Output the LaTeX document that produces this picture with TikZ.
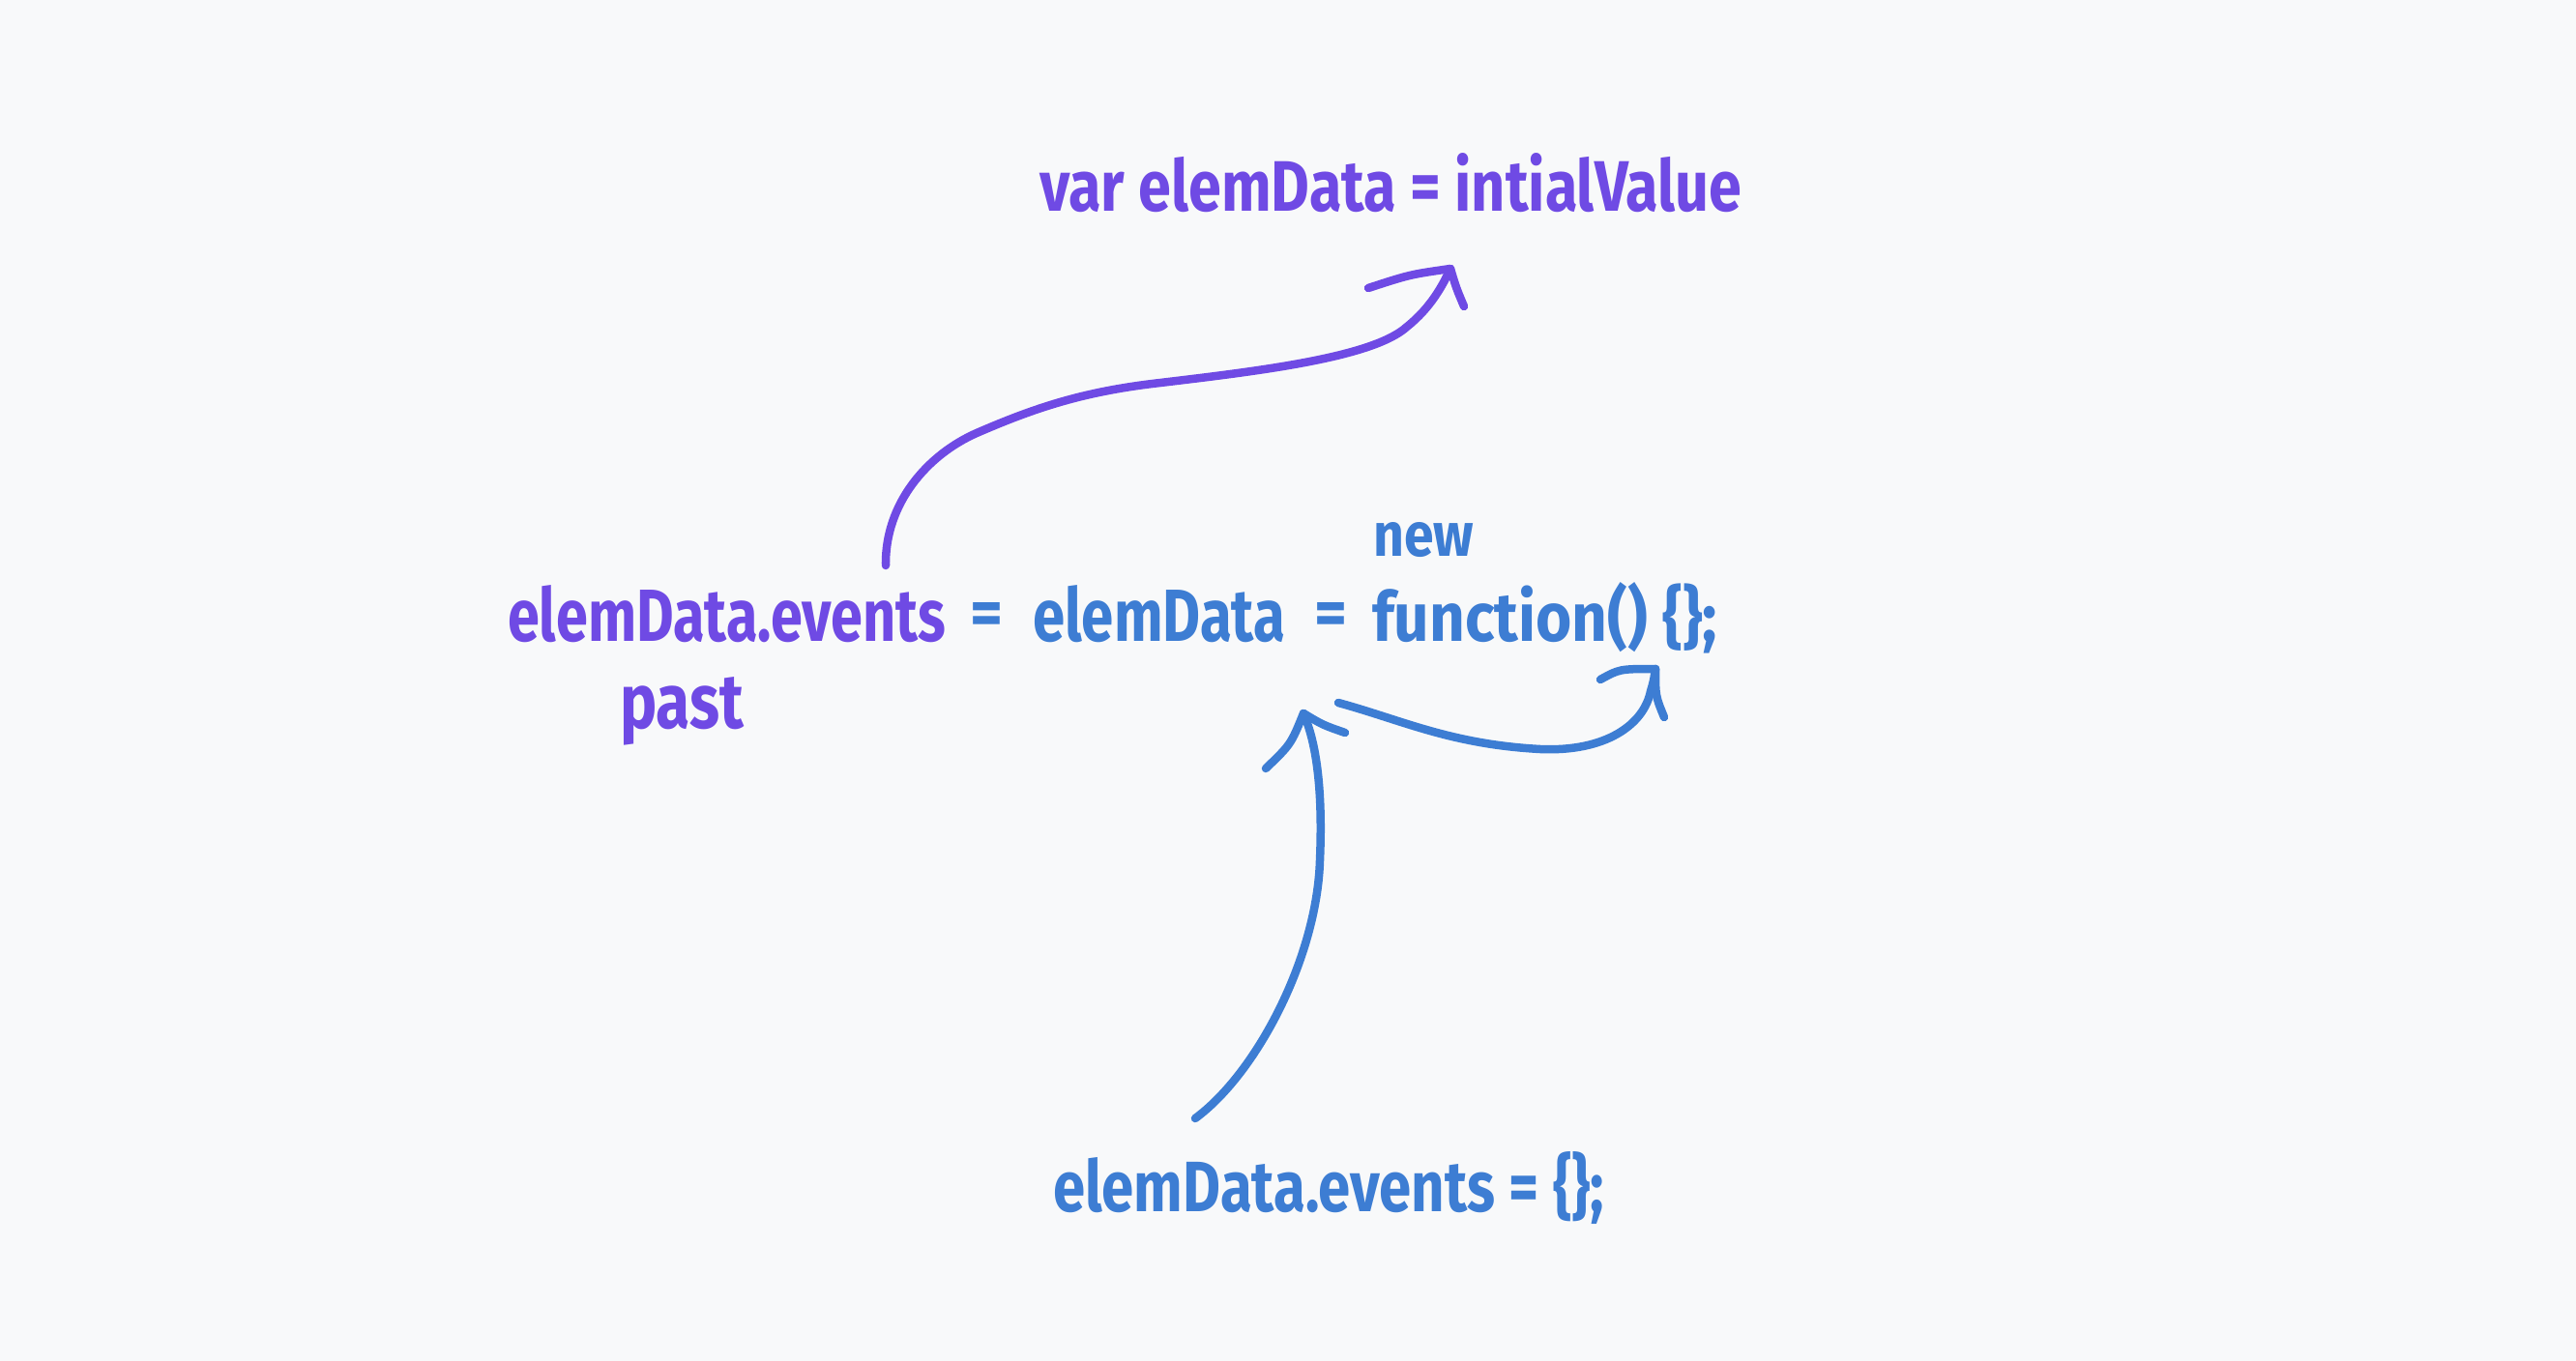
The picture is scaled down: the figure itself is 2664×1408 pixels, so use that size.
\documentclass[tikz,border=0pt]{standalone}
\usepackage{fontspec}
\usepackage{graphicx}
\newfontfamily\hand{Fira Sans}
\definecolor{bgc}{HTML}{F8F9FA}
\definecolor{vio}{HTML}{6F4AE4}
\definecolor{blu}{HTML}{3D7DD3}
\newcommand{\mytxt}[3]{\resizebox{#1pt}{#2pt}{\hand\bfseries\fontsize{40}{48}\selectfont #3}}
\tikzset{
  txt/.style={inner sep=0pt, anchor=base west},
  eqs/.style={inner sep=0pt, anchor=center},
  stroke/.style={line width=8.5pt, line cap=round, line join=round}
}
\begin{document}
\begin{tikzpicture}[x=1pt,y=-1pt]
\fill[bgc] (0,0) rectangle (2664,1408);
\useasboundingbox (0,0) rectangle (2664,1408);

% texts
\node[txt, text=vio] (top) at (1075,218) {\mytxt{726}{60}{var elemData = intialValue}};
\node[txt, text=vio] (evA) at (525,663) {\mytxt{453}{58}{elemData.events}};
\node[eqs, text=blu] (eqA) at (1020,640) {\mytxt{34}{34}{=}};
\node[txt, text=blu] (elemB) at (1068,663) {\mytxt{261}{58}{elemData}};
\node[eqs, text=blu] (eqB) at (1376,640) {\mytxt{34}{34}{=}};
\node[txt, text=blu] (fn) at (1419,663) {\mytxt{357}{61}{function() \{\};}};
\node[txt, text=blu] (new) at (1420,575) {\mytxt{104}{35}{new}};
\node[txt, text=vio] (past) at (641,753) {\mytxt{128}{53}{past}};
\node[txt, text=blu] (bot) at (1089,1253) {\mytxt{570}{62}{elemData.events = \{\};}};

% purple arrow
\coordinate (pS) at (916,585);
\coordinate (pT) at (1500,278);
\coordinate (pL) at (1415,298);
\coordinate (pR) at (1514,317);
\draw[stroke, vio] (pS) .. controls (915,520) and (960,470) .. (1010,448)
   .. controls (1070,422) and (1120,405) .. (1200,396)
   .. controls (1300,384) and (1420,370) .. (1455,338)
   .. controls (1480,318) and (1492,295) .. (pT);
\draw[stroke, vio] (pT) .. controls (1458,284) .. (pL);
\draw[stroke, vio] (pT) .. controls (1506,298) .. (pR);

% blue arrow up
\coordinate (bS) at (1236,1157);
\coordinate (bT) at (1348,738);
\coordinate (bL) at (1309,795);
\coordinate (bR) at (1391,758);
\draw[stroke, blu] (bS) .. controls (1300,1110) and (1362,990) .. (1365,890)
   .. controls (1368,820) and (1362,770) .. (bT);
\draw[stroke, blu] (bT) .. controls (1335,770) .. (bL);
\draw[stroke, blu] (bT) .. controls (1368,750) .. (bR);

% blue arrow right
\coordinate (cS) at (1384,727);
\coordinate (cT) at (1712,692);
\coordinate (cL) at (1655,703);
\coordinate (cR) at (1721,742);
\draw[stroke, blu] (cS) .. controls (1450,745) and (1500,770) .. (1593,775)
   .. controls (1660,778) and (1700,750) .. (1707,715)
   .. controls (1710,705) .. (cT);
\draw[stroke, blu] (cT) .. controls (1675,692) .. (cL);
\draw[stroke, blu] (cT) .. controls (1712,720) .. (cR);
\end{tikzpicture}
\end{document}
